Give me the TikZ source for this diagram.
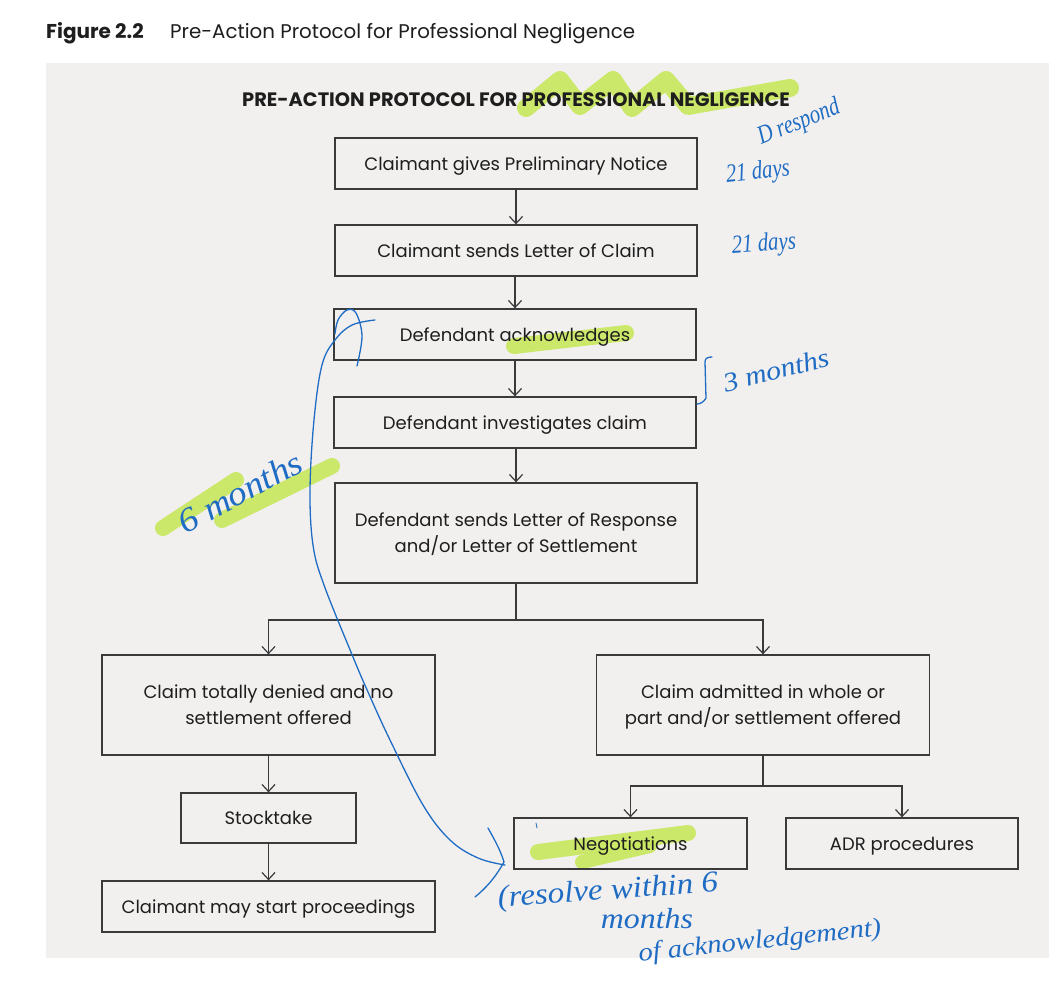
\documentclass[tikz,border=0pt]{standalone}
\usepackage{fontspec}
\setmainfont{Poppins}
\newfontfamily\condfont{Poppins}
\newfontfamily\handfont[FakeStretch=0.8]{Liberation Serif}
\newfontfamily\handwide[FakeStretch=1.1]{Liberation Serif}
\usetikzlibrary{arrows.meta}
\definecolor{panel}{HTML}{F2F0EF}
\definecolor{ink}{HTML}{3A3A3A}
\definecolor{txt}{HTML}{1E1E1E}
\definecolor{pen}{HTML}{1F6CC4}
\definecolor{hlc}{HTML}{C8E85C}
\tikzset{
  box/.style={draw=ink, line width=1.3pt, align=center, text=txt,
    font=\fontsize{18}{26}\selectfont, inner sep=0pt, text depth=0pt},
  wide/.style={minimum width=362pt, minimum height=51pt},
  tall/.style={minimum width=362pt, minimum height=100pt},
  side/.style={minimum width=333pt, minimum height=100pt},
  conn/.style={draw=ink, line width=1.2pt},
  arr/.style={conn, -{Straight Barb[length=7pt,width=13pt]}},
  hilite/.style={draw=hlc, line width=18pt, line cap=round, line join=round, opacity=0.9},
  pentext/.style={text=pen, font=\handfont\itshape\fontsize{26}{26}\selectfont, inner sep=0pt},
  penwide/.style={text=pen, inner sep=0pt},
  penline/.style={draw=pen, line width=1.3pt, line cap=round, line join=round},
}
\begin{document}
\begin{tikzpicture}[x=1pt,y=-1pt]
\useasboundingbox (0,0) rectangle (1049,999);
\fill[white] (0,0) rectangle (1049,999);
\fill[panel] (46,63) rectangle (1049,958);

% caption
\node[anchor=base west, inner sep=0pt, text=txt] (figno) at (46,38)
  {\condfont\bfseries\fontsize{20}{20}\selectfont Figure 2.2};
\node[anchor=base west, inner sep=0pt, text=txt] (figtitle) at (170,38)
  {\condfont\fontsize{19.8}{20}\selectfont Pre-Action Protocol for Professional Negligence};

% highlights
\draw[hilite] (526,108) -- (560,80) -- (580,106) -- (613,80) -- (632,108) -- (666,80) -- (688,106) -- (790,88);
\draw[hilite, line width=16pt] (514,346) -- (626,333);
\draw[hilite, line width=16pt] (163,528) -- (236,480);
\draw[hilite, line width=16pt] (222,520) -- (332,466);
\draw[hilite, line width=16pt] (538,852) -- (688,833);
\draw[hilite, line width=14pt] (582,862) -- (650,846);

% heading
\node[inner sep=0pt, text=txt] (head) at (516,100)
  {\condfont\bfseries\fontsize{19.4}{19.4}\selectfont PRE-ACTION PROTOCOL FOR PROFESSIONAL NEGLIGENCE};

% boxes
\node[box, wide] (n1) at (516,163.5) {Claimant gives Preliminary Notice};
\node[box, wide] (n2) at (516,250.5) {Claimant sends Letter of Claim};
\node[box, wide] (n3) at (515,334.5) {Defendant acknowledges};
\node[box, wide] (n4) at (515,422.5) {Defendant investigates claim};
\node[box, tall] (n5) at (516,533) {Defendant sends Letter of Response\\and/or Letter of Settlement};
\node[box, side] (n6) at (268.5,705) {Claim totally denied and no\\settlement offered};
\node[box, side] (n7) at (763,705) {Claim admitted in whole or\\part and/or settlement offered};
\node[box, minimum width=175pt, minimum height=50pt] (n8) at (268.5,818) {Stocktake};
\node[box, minimum width=333pt, minimum height=51pt] (n9) at (268.5,906.5) {Claimant may start proceedings};
\node[box, minimum width=233pt, minimum height=51pt] (n10) at (630.5,843.5) {Negotiations};
\node[box, minimum width=232pt, minimum height=51pt] (n11) at (902,843.5) {ADR procedures};

% connectors
\draw[arr] (n1) -- (n2);
\draw[arr] (n2.south -| n3) -- (n3);
\draw[arr] (n3) -- (n4);
\draw[arr] (n4.south -| n5) -- (n5);
\coordinate (j1) at (516,620);
\draw[conn] (n5.south) -- (j1);
\draw[arr] (j1) -| (n6);
\draw[arr] (j1) -| (n7);
\draw[arr] (n6) -- (n8);
\draw[arr] (n8) -- (n9);
\coordinate (j2) at (763,786);
\draw[conn] (n7.south) -- (j2);
\draw[arr] (j2) -| (n10);
\draw[arr] (j2) -| (n11);

% handwritten notes
\node[pentext, rotate=22] (hw1) at (799,123) {D respond};
\node[pentext, rotate=6] (hw2) at (758,173) {21 days};
\node[pentext, rotate=4] (hw3) at (764,245) {21 days};
\node[penwide, rotate=14, font=\handwide\itshape\fontsize{27}{27}\selectfont] (hw4) at (776,370) {3 months};
\node[penwide, rotate=28, font=\handwide\itshape\fontsize{34}{34}\selectfont] (hw5) at (240,492) {6 months};
\node[penwide, rotate=4, font=\handwide\itshape\fontsize{30}{30}\selectfont] (hw6) at (608,892) {(resolve within 6};
\node[penwide, font=\handwide\itshape\fontsize{29}{29}\selectfont] (hw7) at (647,919) {months};
\node[penwide, rotate=6, font=\handwide\itshape\fontsize{26}{26}\selectfont] (hw8) at (760,942) {of acknowledgement)};

% bracket next to 3 months
\draw[penline] (712,357) .. controls (708,357) and (705,358) .. (705,362) -- (706,398) .. controls (704,402) and (700,404) .. (697,404);

% handwritten curved arrow from acknowledges to Negotiations
\draw[penline] plot[smooth, tension=0.6] coordinates {
  (357,366) (362,336) (356,313) (347,310) (338,320) (335,334)};
\draw[penline] plot[smooth, tension=0.6] coordinates {
  (375,320) (352,325) (335,340) (322,365) (314,420) (310,490) (313,545)
  (324,585) (353,657) (368,692) (390,740) (423,805) (450,840) (478,858) (505,865)};
\draw[penline] (488,828) .. controls (496,842) and (501,852) .. (504,862)
  .. controls (495,878) and (486,888) .. (475,897);
\draw[penline, line width=0.8pt] (536,823) -- (537,828);
\end{tikzpicture}
\end{document}
